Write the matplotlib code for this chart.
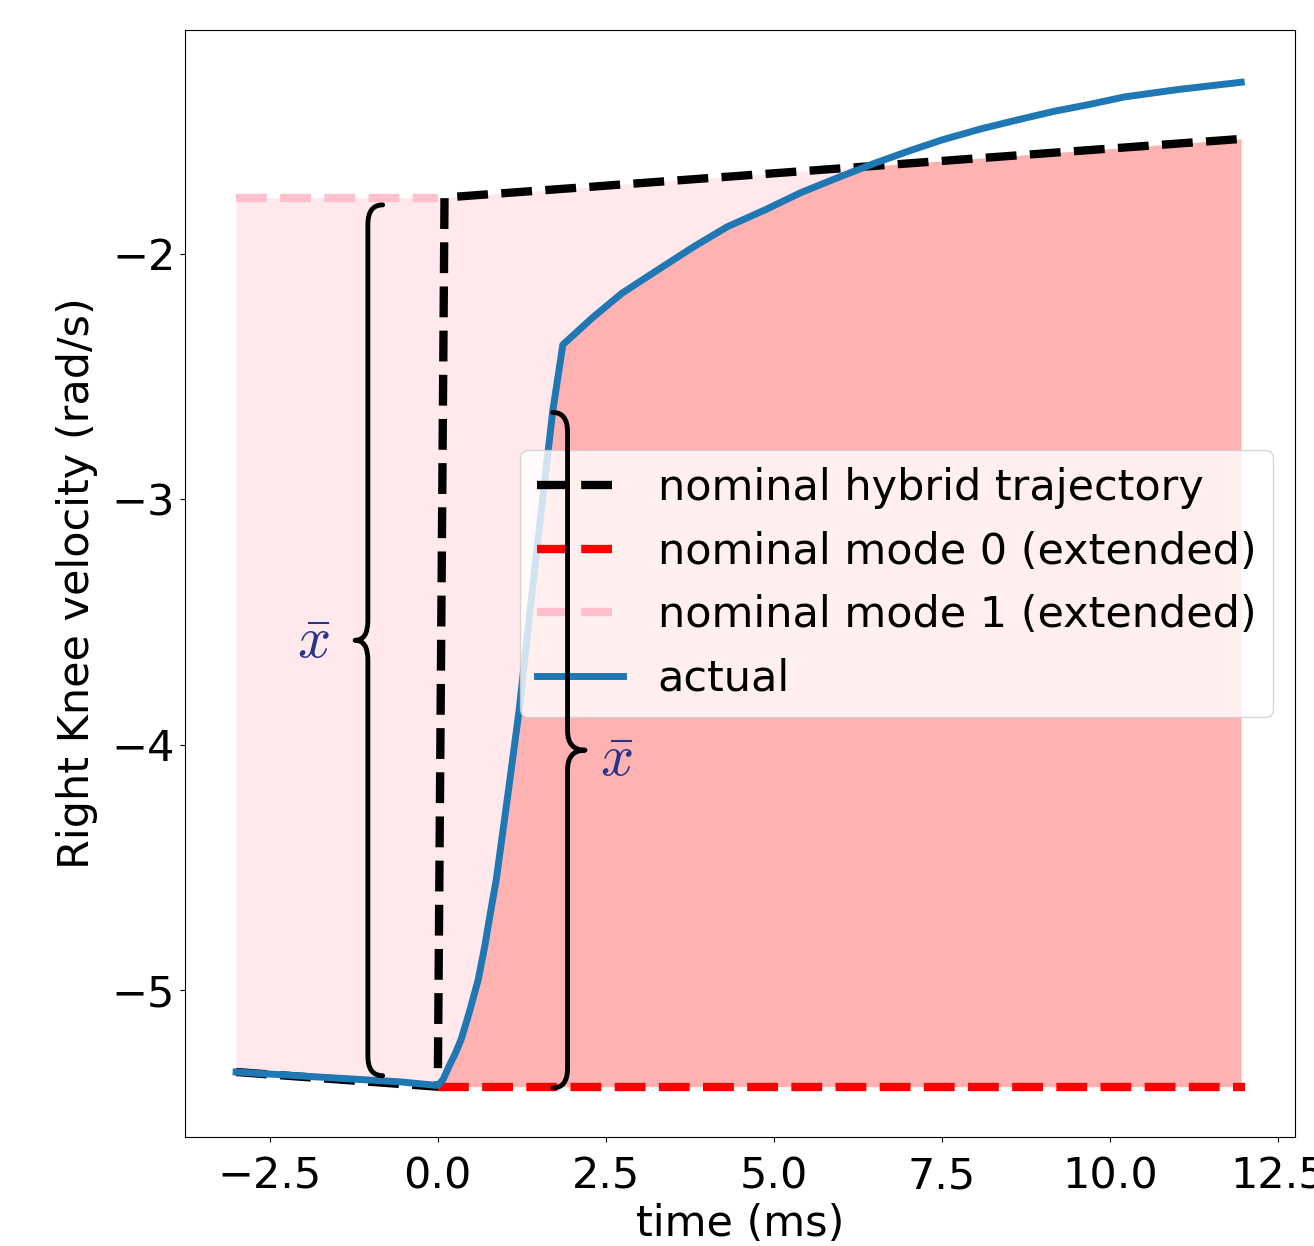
import numpy as np
import matplotlib
matplotlib.use("Agg")
import matplotlib.pyplot as plt
from matplotlib.path import Path
from matplotlib.patches import PathPatch

plt.rcParams['mathtext.fontset'] = 'cm'

# nominal hybrid trajectory (mode 0 -> impact at t=0 -> mode 1)
nominal_t = [-3.0, 0.0, 0.1, 12.0]
nominal_v = [-5.335, -5.395, -1.77, -1.53]

# extended modes
mode0_t = [0.0, 12.0]
mode0_v = [-5.395, -5.395]
mode1_t = [-3.0, 0.0]
mode1_v = [-1.77, -1.77]

# actual trajectory
actual_t = [-3.0, -1.5, -0.57, 0.0, 0.08, 0.17, 0.26, 0.35, 0.47, 0.60, 0.70, 0.78, 0.87,
            1.02, 1.21, 1.39, 1.55, 1.71, 1.86, 2.3, 2.74, 3.3, 3.81, 4.3, 4.87, 5.4,
            5.94, 6.5, 7.01, 7.5, 8.08, 8.6, 9.14, 9.7, 10.21, 11.0, 11.95]
actual_v = [-5.335, -5.36, -5.375, -5.39, -5.365, -5.31, -5.26, -5.20, -5.09, -4.96, -4.82,
            -4.69, -4.55, -4.25, -3.86, -3.41, -3.02, -2.64, -2.37, -2.26, -2.16, -2.06,
            -1.97, -1.89, -1.82, -1.75, -1.69, -1.63, -1.58, -1.535, -1.49, -1.455, -1.42,
            -1.39, -1.36, -1.33, -1.30]

# brace annotations: (spine x, bottom, top, arm end x, tip x, label x, label y)
brace_left = (-1.04, -5.35, -1.80, -0.82, -1.23, -1.85, -3.58)
brace_right = (1.93, -5.40, -2.646, 1.71, 2.19, 2.66, -4.06)

fig = plt.figure(figsize=(13.14, 12.46), dpi=100)
ax = fig.add_axes([185 / 1314, 1 - 1137 / 1246, 1110 / 1314, 1107 / 1246])

# fills
tt = np.linspace(-3.0, 11.95, 3000)
act = np.interp(tt, actual_t, actual_v)
top1 = np.interp(tt, [-3.0, 0.1, 12.0], [mode1_v[0], nominal_v[2], nominal_v[3]])
ax.fill_between(tt, act, top1, where=act < top1, interpolate=True,
                color='pink', alpha=0.35, lw=0, zorder=1)
m0 = tt >= 0
ax.fill_between(tt[m0], mode0_v[0], np.minimum(act, top1)[m0],
                color='red', alpha=0.3, lw=0, zorder=1)

ax.plot(nominal_t, nominal_v, '--', color='black', lw=6, label='nominal hybrid trajectory', zorder=2)
ax.plot(mode0_t, mode0_v, '--', color='red', lw=6, label='nominal mode 0 (extended)', zorder=2)
ax.plot(mode1_t, mode1_v, '--', color='pink', lw=6, label='nominal mode 1 (extended)', zorder=2)
ax.plot(actual_t, actual_v, '-', color='tab:blue', lw=5, label='actual', zorder=3)


def draw_brace(ax, x, y0, y1, xe, xt, rv=0.08):
    ym = (y0 + y1) / 2
    verts = [(xe, y1), (x, y1), (x, y1 - rv),
             (x, ym + rv), (x, ym), (xt, ym),
             (x, ym), (x, ym - rv),
             (x, y0 + rv), (x, y0), (xe, y0)]
    codes = [Path.MOVETO, Path.CURVE3, Path.CURVE3,
             Path.LINETO, Path.CURVE3, Path.CURVE3,
             Path.CURVE3, Path.CURVE3,
             Path.LINETO, Path.CURVE3, Path.CURVE3]
    ax.add_patch(PathPatch(Path(verts, codes), fill=False, lw=3.5, ec='black',
                           capstyle='round', joinstyle='round', zorder=6))


for b in [brace_left, brace_right]:
    draw_brace(ax, b[0], b[1], b[2], b[3], b[4])
    ax.text(b[5], b[6], r'$\bar{x}$', fontsize=42, color='#27348b',
            ha='center', va='center', zorder=6)

ax.set_xlim(-3.76, 12.75)
ax.set_ylim(-5.60, -1.087)
ax.set_xticks([-2.5, 0.0, 2.5, 5.0, 7.5, 10.0, 12.5])
ax.set_yticks([-5, -4, -3, -2])
ax.tick_params(labelsize=31)
ax.tick_params(axis='x', pad=10)
ax.set_xlabel('time (ms)', fontsize=31)
ax.set_ylabel('Right Knee velocity (rad/s)', fontsize=31, labelpad=10)
ax.legend(loc='center right', fontsize=31)

fig.savefig('out.png', dpi=100)
